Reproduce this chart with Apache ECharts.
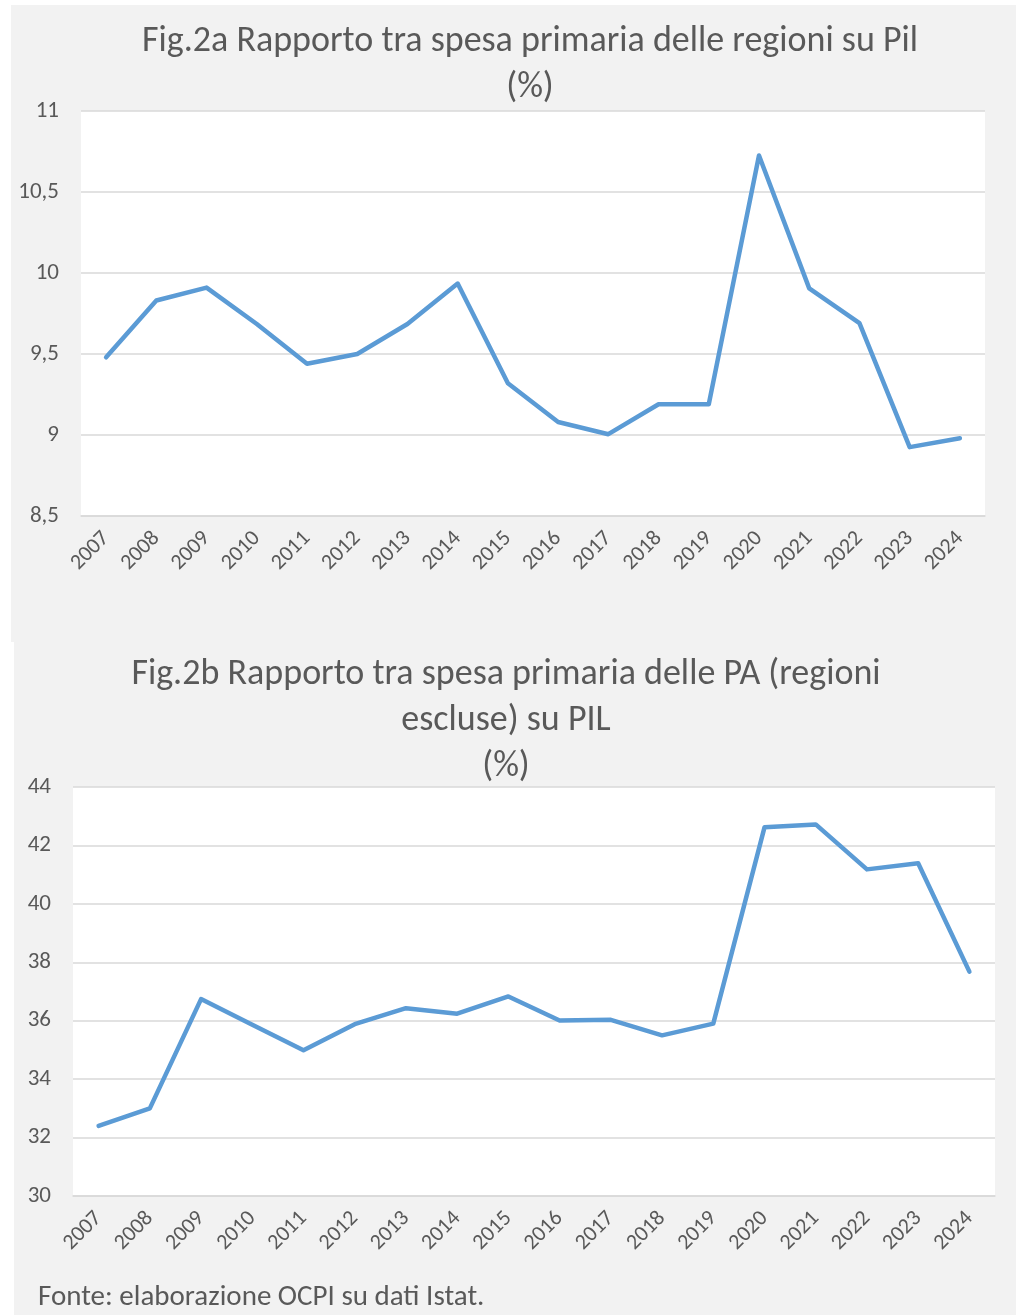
<!DOCTYPE html>
<html>
<head>
<meta charset="utf-8">
<script src="https://cdn.jsdelivr.net/npm/echarts@6/dist/echarts.min.js"></script>
<style>
    body { margin: 0; background: #fff; width: 1016px; height: 1315px; position: relative; }
    .box { position: absolute; background: #f2f2f2; }
    #chartA { left: 11px; top: 5px; width: 1005px; height: 637px; }
    #chartB { left: 14px; top: 642px; width: 1002px; height: 673px; }
</style>
</head>
<body>
<div id="chartA" class="box"></div>
<div id="chartB" class="box"></div>
<script>
    // dati
    var years = ['2007', '2008', '2009', '2010', '2011', '2012', '2013', '2014', '2015',
        '2016', '2017', '2018', '2019', '2020', '2021', '2022', '2023', '2024'];
    // Fig.2a spesa primaria regioni / Pil (%)
    var regioni = [9.48, 9.83, 9.91, 9.685, 9.44, 9.50, 9.685, 9.935, 9.32,
        9.08, 9.005, 9.19, 9.19, 10.725, 9.905, 9.69, 8.925, 8.98];
    // Fig.2b spesa primaria PA (regioni escluse) / PIL (%)
    var pa = [32.40, 33.00, 36.74, 35.86, 34.99, 35.88, 36.43, 36.24, 36.83,
        36.01, 36.03, 35.50, 35.90, 42.62, 42.72, 41.18, 41.39, 37.68];

    var font = 'Carlito, "Liberation Sans Narrow", "Open Sans", sans-serif';
    var txt = '#595959';
    var grid = '#d9d9d9';

    function makeOption(title, titleX, titleY, gridPos, data, min, max, step) {
        return {
            backgroundColor: '#f2f2f2',
            animation: false,
            // titolo centrato come nell'originale (non al centro del riquadro)
            graphic: [{
                type: 'text',
                x: titleX,
                y: titleY,
                style: {
                    text: title, fill: txt, font: '36px ' + font,
                    align: 'center', verticalAlign: 'top', lineHeight: 46
                }
            }],
            grid: Object.assign({ show: true, backgroundColor: '#fff', borderWidth: 0 }, gridPos),
            xAxis: {
                type: 'category',
                data: years,
                axisLine: { lineStyle: { color: grid, width: 1.5 } },
                axisTick: { show: false },
                axisLabel: { rotate: 45, color: txt, fontFamily: font, fontSize: 22, margin: 19 }
            },
            yAxis: {
                type: 'value',
                min: min, max: max, interval: step,
                axisLine: { show: false },
                axisTick: { show: false },
                splitLine: { lineStyle: { color: grid, width: 1.5 } },
                axisLabel: {
                    color: txt, fontFamily: font, fontSize: 23, margin: 22,
                    formatter: function (v) { return String(v).replace('.', ','); }
                }
            },
            series: [{
                type: 'line',
                data: data,
                showSymbol: false,
                lineStyle: { color: '#5b9bd5', width: 4.5, cap: 'round', join: 'round' }
            }]
        };
    }

    var chartA = echarts.init(document.getElementById('chartA'));
    chartA.setOption(makeOption('Fig.2a Rapporto tra spesa primaria delle regioni su Pil\n(%)', 519, 14,
        { left: 70, top: 106, width: 904, height: 405 }, regioni, 8.5, 11, 0.5));

    var chartB = echarts.init(document.getElementById('chartB'));
    var optB = makeOption('Fig.2b Rapporto tra spesa primaria delle PA (regioni\nescluse) su PIL\n(%)', 492, 10,
        { left: 59, top: 145, width: 922, height: 409 }, pa, 30, 44, 2);
    optB.graphic.push({
        type: 'text',
        left: 24,
        top: 641,
        style: { text: 'Fonte: elaborazione OCPI su dati Istat.', fill: txt, font: '29px ' + font }
    });
    chartB.setOption(optB);
</script>
</body>
</html>
